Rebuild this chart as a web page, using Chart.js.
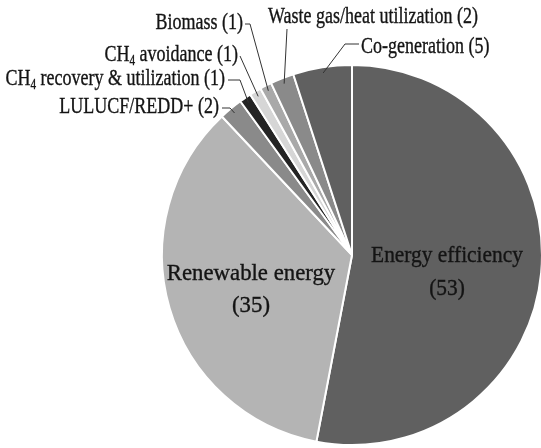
<!DOCTYPE html>
<html>
<head>
<meta charset="utf-8">
<script src="https://cdn.jsdelivr.net/npm/chart.js@4.4.1/dist/chart.umd.min.js"></script>
<style>
  html, body { margin: 0; padding: 0; background: #fff; overflow: hidden; }
  #wrap { width: 541px; height: 448px; overflow: hidden; }
</style>
</head>
<body>
<div id="wrap"><canvas id="chart-projects" width="560" height="448"></canvas></div>
<script>
/* ── Data ───────────────────────────────────────────────── */
const categories = [
  'Energy efficiency', 'Renewable energy', 'LULUCF/REDD+',
  'CH4 recovery & utilization', 'CH4 avoidance', 'Biomass',
  'Waste gas/heat utilization', 'Co-generation'
];
const projectCounts = [53, 35, 2, 1, 1, 1, 2, 5];
const sliceGrays = ['#606060', '#b4b4b4', '#8a8a8a', '#242424', '#d6d6d6', '#a9a9a9', '#8a8a8a', '#606060'];

const FONT = '"Liberation Serif", "DejaVu Serif", serif';

/* ── Label layout (text parts: [string, isSubscript]) ───── */
const insideLabels = {
  0: { x: 447, sx: 0.93, lines: [[['Energy efficiency', 0]], [['(53)', 0]]], base: [262, 295] },
  1: { x: 251, sx: 0.99, lines: [[['Renewable energy', 0]], [['(35)', 0]]], base: [280, 312] }
};
const outsideLabels = {
  2: { parts: [['LULUCF/REDD+ (2)', 0]], x: 219, base: 113, align: 'right', path: [[222, 108], [230, 108]] },
  3: { parts: [['CH', 0], ['4', 1], [' recovery & utilization (1)', 0]], x: 225, base: 85, align: 'right', path: [[228, 80], [240, 80]] },
  4: { parts: [['CH', 0], ['4', 1], [' avoidance (1)', 0]], x: 238, base: 61, align: 'right', path: [[240, 56]] },
  5: { parts: [['Biomass (1)', 0]], x: 243, base: 29, align: 'right', path: [[245, 24], [250, 24]] },
  6: { parts: [['Waste gas/heat utilization (2)', 0]], x: 268, base: 23, align: 'left', path: [[287, 29]] },
  7: { parts: [['Co-generation (5)', 0]], x: 361, base: 53, align: 'left', path: [[359, 44], [345, 44]] }
};

/* ── Text helper: horizontally condensed serif with subscripts ── */
function drawParts(ctx, parts, x, base, align, size, sx) {
  const subSize = Math.round(size * 0.62);
  const widths = parts.map(([t, sub]) => {
    ctx.font = `${sub ? subSize : size}px ${FONT}`;
    return ctx.measureText(t).width * sx;
  });
  const total = widths.reduce((a, b) => a + b, 0);
  let cx = align === 'right' ? x - total : align === 'center' ? x - total / 2 : x;
  parts.forEach(([t, sub], i) => {
    ctx.save();
    ctx.font = `${sub ? subSize : size}px ${FONT}`;
    ctx.translate(cx, base + (sub ? 4 : 0));
    ctx.scale(sx, 1);
    ctx.fillText(t, 0, 0);
    ctx.strokeText(t, 0, 0);
    ctx.restore();
    cx += widths[i];
  });
}

const labelPlugin = {
  id: 'pieLabels',
  afterDatasetsDraw(chart) {
    const ctx = chart.ctx;
    const arcs = chart.getDatasetMeta(0).data;
    ctx.save();
    ctx.textBaseline = 'alphabetic';
    ctx.textAlign = 'left';

    Object.entries(insideLabels).forEach(([i, lab]) => {
      ctx.fillStyle = '#141414';
      ctx.strokeStyle = '#141414';
      ctx.lineWidth = 0.35;
      lab.lines.forEach((parts, k) => drawParts(ctx, parts, lab.x, lab.base[k], 'center', 23, lab.sx));
    });

    Object.entries(outsideLabels).forEach(([i, lab]) => {
      const arc = arcs[i];
      const mid = (arc.startAngle + arc.endAngle) / 2;
      const r = arc.outerRadius * 0.97;
      const ex = arc.x + Math.cos(mid) * r;
      const ey = arc.y + Math.sin(mid) * r;
      ctx.strokeStyle = '#333';
      ctx.lineWidth = 1;
      ctx.beginPath();
      ctx.moveTo(lab.path[0][0], lab.path[0][1]);
      lab.path.slice(1).forEach(p => ctx.lineTo(p[0], p[1]));
      ctx.lineTo(ex, ey);
      ctx.stroke();
      ctx.fillStyle = '#141414';
      ctx.strokeStyle = '#141414';
      ctx.lineWidth = 0.35;
      drawParts(ctx, lab.parts, lab.x, lab.base, lab.align, 22.5, 0.80);
    });
    ctx.restore();
  }
};

/* ── Chart ──────────────────────────────────────────────── */
new Chart(document.getElementById('chart-projects'), {
  type: 'pie',
  data: {
    labels: categories,
    datasets: [{
      data: projectCounts,
      backgroundColor: sliceGrays,
      borderColor: '#ffffff',
      borderWidth: 2
    }]
  },
  options: {
    responsive: false,
    animation: false,
    layout: { padding: { left: 160, right: 16, top: 64, bottom: 2 } },
    plugins: { legend: { display: false }, tooltip: { enabled: false } }
  },
  plugins: [labelPlugin]
});
</script>
</body>
</html>
